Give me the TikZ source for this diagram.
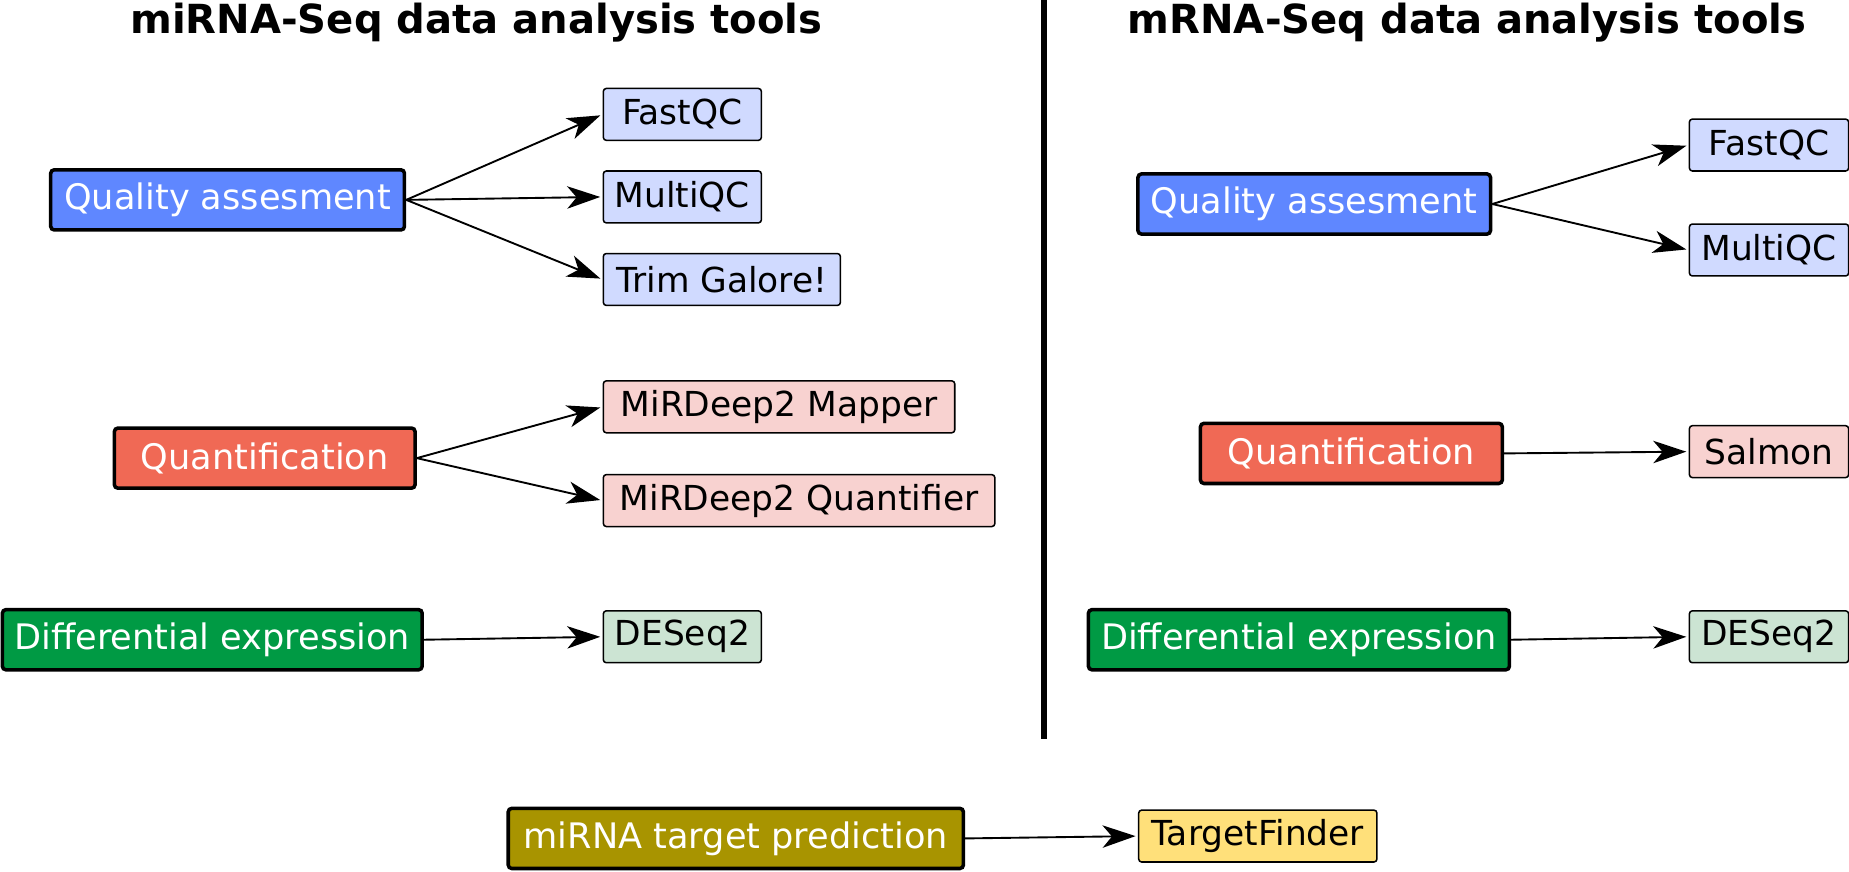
\documentclass[tikz,border=0pt]{standalone}
\usepackage{fontspec}
\setmainfont{DejaVu Sans}
\usepackage{tikz}
\usetikzlibrary{positioning}
\usetikzlibrary{arrows.meta}

\definecolor{qualBlue}{HTML}{5F87FF}
\definecolor{qualLight}{HTML}{D0DAFF}
\definecolor{quantRed}{HTML}{F06955}
\definecolor{quantLight}{HTML}{F8D2D0}
\definecolor{diffGreen}{HTML}{009A44}
\definecolor{diffLight}{HTML}{CCE4D3}
\definecolor{targetOlive}{HTML}{A89400}
\definecolor{targetLight}{HTML}{FFE07A}

\tikzset{
	mainBox/.style={
		draw,
		line width=3pt,
		rounded corners=3pt,
		text=white,
		minimum height=51pt,
		inner xsep=0pt,
		font=\fontsize{29.8}{31}\selectfont
	},
	toolBox/.style={
		draw,
		line width=1.3pt,
		rounded corners=2.5pt,
		anchor=west,
		minimum height=44pt,
		inner xsep=0pt,
		font=\fontsize{29.2}{30}\selectfont
	},
	link/.style={
		line width=1.6pt,
		-{Stealth[length=28pt, width=19pt, inset=8pt]},
		shorten >=2pt
	}
}

\begin{document}
\begin{tikzpicture}[x=1pt, y=-1pt]

\useasboundingbox (0,0) rectangle (1568,739);

\node[anchor=base, font=\fontsize{34}{36}\selectfont\bfseries] (titleMirna) at (404,28) {miRNA-Seq data analysis tools};
\node[anchor=base, font=\fontsize{34}{36}\selectfont\bfseries] (titleMrna) at (1244,28) {mRNA-Seq data analysis tools};

\coordinate (dividerTop) at (885,0);
\coordinate (dividerBottom) at (885,627);
\draw[line width=5pt] (dividerTop) -- (dividerBottom);

% --- miRNA side

\node[mainBox, fill=qualBlue, minimum width=300pt] (qualMirna) at (193,169.5) {Quality assesment};
\node[toolBox, fill=qualLight, minimum width=134pt] (fastqcMirna) at (511,97) {FastQC};
\node[toolBox, fill=qualLight, minimum width=134pt] (multiqcMirna) at (511,167) {MultiQC};
\node[toolBox, fill=qualLight, minimum width=201pt] (trimGalore) at (511,237) {Trim Galore!};

\node[mainBox, fill=quantRed, minimum width=255pt] (quantMirna) at (224.5,388.5) {Quantification};
\node[toolBox, fill=quantLight, minimum width=298pt] (mapper) at (511,345) {MiRDeep2 Mapper};
\node[toolBox, fill=quantLight, minimum width=332pt] (quantifier) at (511,424.5) {MiRDeep2 Quantifier};

\node[mainBox, fill=diffGreen, minimum width=356pt] (diffMirna) at (180,542.5) {Differential expression};
\node[toolBox, fill=diffLight, minimum width=134pt] (deseqMirna) at (511,540) {DESeq2};

% --- mRNA side

\node[mainBox, fill=qualBlue, minimum width=299pt] (qualMrna) at (1114.5,173) {Quality assesment};
\node[toolBox, fill=qualLight, minimum width=135pt] (fastqcMrna) at (1432,123) {FastQC};
\node[toolBox, fill=qualLight, minimum width=135pt] (multiqcMrna) at (1432,212) {MultiQC};

\node[mainBox, fill=quantRed, minimum width=256pt] (quantMrna) at (1146,384.5) {Quantification};
\node[toolBox, fill=quantLight, minimum width=135pt] (salmon) at (1432,383) {Salmon};

\node[mainBox, fill=diffGreen, minimum width=357pt] (diffMrna) at (1101.5,542.5) {Differential expression};
\node[toolBox, fill=diffLight, minimum width=135pt] (deseqMrna) at (1432,540) {DESeq2};

% --- target prediction

\node[mainBox, fill=targetOlive, minimum width=386pt] (targetPred) at (624,711) {miRNA target prediction};
\node[toolBox, fill=targetLight, minimum width=202pt] (targetFinder) at (965,709) {TargetFinder};

% ---

\draw[link] (qualMirna.east) -- (fastqcMirna.west);
\draw[link] (qualMirna.east) -- (multiqcMirna.west);
\draw[link] (qualMirna.east) -- (trimGalore.west);
\draw[link] (quantMirna.east) -- (mapper.west);
\draw[link] (quantMirna.east) -- (quantifier.west);
\draw[link] (diffMirna.east) -- (deseqMirna.west);

\draw[link] (qualMrna.east) -- (fastqcMrna.west);
\draw[link] (qualMrna.east) -- (multiqcMrna.west);
\draw[link] (quantMrna.east) -- (salmon.west);
\draw[link] (diffMrna.east) -- (deseqMrna.west);

\draw[link] (targetPred.east) -- (targetFinder.west);

\end{tikzpicture}
\end{document}
